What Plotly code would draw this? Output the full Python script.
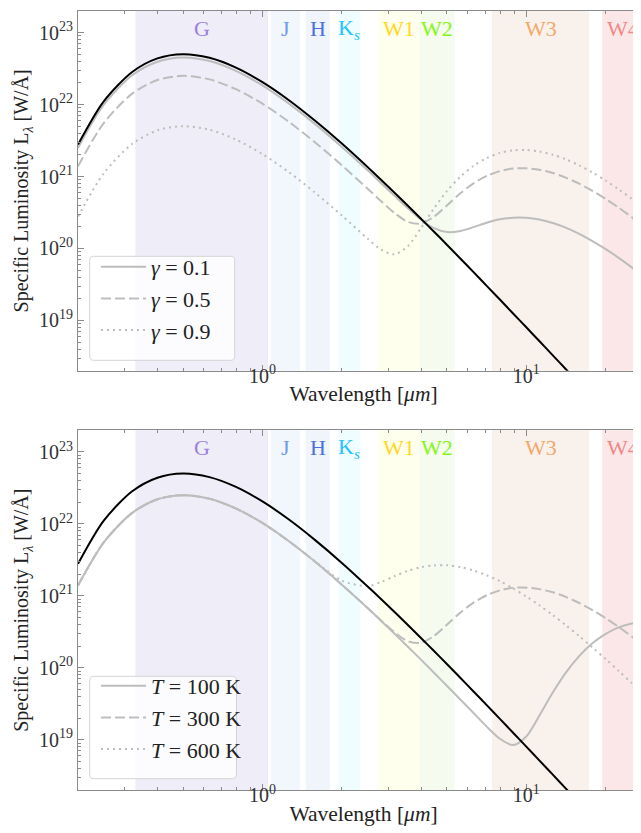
import math
import plotly.graph_objects as go

# ---------------- data ----------------
wavelength_um = [0.2, 0.25, 0.32, 0.4, 0.5, 0.63, 0.79, 1.0, 1.26, 1.58, 2.0, 2.51, 2.82, 3.16,
                 3.55, 3.98, 4.47, 5.01, 5.62, 6.31, 7.08, 7.94, 8.91, 10.0, 11.2, 12.6, 14.1,
                 15.8, 17.8, 20.0, 22.4, 25.1, 28.2, 31.6]

L_star = [2.78e21, 1.10e22, 2.82e22, 4.39e22, 5.02e22, 4.47e22, 3.29e22, 2.05e22, 1.15e22, 6.00e21,
          2.87e21, 1.34e21, 8.97e20, 6.00e20, 3.96e20, 2.61e20, 1.71e20, 1.12e20, 7.26e19, 4.69e19,
          3.02e19, 1.95e19, 1.25e19, 8.02e18, 5.17e18, 3.27e18, 2.11e18, 1.35e18, 8.45e17, 5.34e17,
          3.42e17, 2.18e17, 1.38e17, 8.78e16]

L_gamma_01 = [2.50e21, 9.87e21, 2.54e22, 3.95e22, 4.52e22, 4.03e22, 2.96e22, 1.85e22, 1.03e22, 5.40e21,
              2.58e21, 1.21e21, 8.08e20, 5.43e20, 3.64e20, 2.53e20, 1.92e20, 1.69e20, 1.75e20, 1.98e20,
              2.28e20, 2.54e20, 2.68e20, 2.67e20, 2.53e20, 2.26e20, 1.95e20, 1.61e20, 1.27e20, 9.80e19,
              7.40e19, 5.46e19, 3.92e19, 2.79e19]

L_gamma_05 = [1.39e21, 5.49e21, 1.41e22, 2.20e22, 2.51e22, 2.24e22, 1.65e22, 1.03e22, 5.75e21, 3.00e21,
              1.43e21, 6.72e20, 4.52e20, 3.13e20, 2.35e20, 2.22e20, 2.77e20, 4.00e20, 5.84e20, 8.04e20,
              1.02e21, 1.19e21, 1.29e21, 1.30e21, 1.24e21, 1.12e21, 9.66e20, 8.01e20, 6.33e20, 4.88e20,
              3.69e20, 2.72e20, 1.95e20, 1.39e20]

L_gamma_09 = [2.78e20, 1.10e21, 2.82e21, 4.39e21, 5.02e21, 4.47e21, 3.29e21, 2.05e21, 1.15e21, 6.00e20,
              2.87e20, 1.36e20, 9.61e19, 8.29e19, 1.07e20, 1.90e20, 3.62e20, 6.30e20, 9.93e20, 1.41e21,
              1.81e21, 2.13e21, 2.31e21, 2.34e21, 2.23e21, 2.01e21, 1.74e21, 1.44e21, 1.14e21, 8.78e20,
              6.63e20, 4.90e20, 3.52e20, 2.50e20]

L_T100 = [1.39e21, 5.49e21, 1.41e22, 2.20e22, 2.51e22, 2.24e22, 1.65e22, 1.03e22, 5.75e21, 3.00e21,
          1.43e21, 6.71e20, 4.48e20, 3.00e20, 1.98e20, 1.31e20, 8.53e19, 5.58e19, 3.63e19, 2.35e19,
          1.52e19, 1.03e19, 8.44e18, 1.11e19, 2.15e19, 4.53e19, 8.50e19, 1.43e20, 2.19e20, 2.97e20,
          3.65e20, 4.12e20, 4.34e20, 4.27e20]

L_T300 = [1.39e21, 5.49e21, 1.41e22, 2.20e22, 2.51e22, 2.24e22, 1.65e22, 1.03e22, 5.75e21, 3.00e21,
          1.43e21, 6.72e20, 4.52e20, 3.13e20, 2.35e20, 2.22e20, 2.77e20, 4.00e20, 5.84e20, 8.04e20,
          1.02e21, 1.19e21, 1.29e21, 1.30e21, 1.24e21, 1.12e21, 9.66e20, 8.01e20, 6.33e20, 4.88e20,
          3.69e20, 2.72e20, 1.95e20, 1.39e20]

L_T600 = [1.39e21, 5.49e21, 1.41e22, 2.20e22, 2.51e22, 2.24e22, 1.65e22, 1.03e22, 5.75e21, 3.03e21,
          1.62e21, 1.37e21, 1.56e21, 1.87e21, 2.22e21, 2.50e21, 2.65e21, 2.66e21, 2.51e21, 2.25e21,
          1.93e21, 1.60e21, 1.27e21, 9.79e20, 7.40e20, 5.40e20, 3.92e20, 2.79e20, 1.92e20, 1.32e20,
          9.04e19, 6.13e19, 4.09e19, 2.73e19]

gamma_labels = ["<i>γ</i> = 0.1", "<i>γ</i> = 0.5", "<i>γ</i> = 0.9"]
temp_labels = ["<i>T</i> = 100 K", "<i>T</i> = 300 K", "<i>T</i> = 600 K"]

band_names = ["G", "J", "H", "K<sub><i>s</i></sub>", "W1", "W2", "W3", "W4"]
band_lo_um = [0.33, 1.075, 1.46, 1.94, 2.735, 3.94, 7.41, 19.4]
band_hi_um = [1.05, 1.39, 1.80, 2.35, 3.94, 5.35, 17.3, 28.0]
band_fill = ["#EFEDF8", "#F2F6FD", "#F0F4FB", "#F0FDFF", "#FFFFEE", "#F5FBEE", "#F9F1EC", "#FBE7E7"]
band_text = ["#9B80E0", "#6C9AEE", "#4A70E2", "#22C3FF", "#FFD820", "#84F814", "#F4A86A", "#F08888"]

x_tick_vals = [1, 10]
x_tick_text = ["10<sup>0</sup>", "10<sup>1</sup>"]
y_tick_vals = [1e19, 1e20, 1e21, 1e22, 1e23]
y_tick_text = ["10<sup>19</sup>", "10<sup>20</sup>", "10<sup>21</sup>", "10<sup>22</sup>", "10<sup>23</sup>"]

# ---------------- styling / layout ----------------
SERIF = "Liberation Serif, DejaVu Serif, serif"
GREY = "#bdbdbd"
SPINE = "#8a8a8a"
TXT = "#222222"

W, H = 641, 833
ML, MR, MT, MB = 70, 0, 3, 51
PW = W - ML - MR
PH = H - MT - MB


def px_x(px):
    return (px - ML) / PW


def px_y(py):
    return 1 - (py - MT) / PH


top_dom = [px_y(362.7), 1.0]
bot_dom = [0.0, px_y(422.3)]

x_minor = [m * 10.0 ** e for e in range(-1, 2) for m in range(2, 10)]
y_minor = [m * 10.0 ** e for e in range(18, 24) for m in range(2, 10)]

fig = go.Figure()

styles = [("solid", GREY), ("10px,4px", GREY), ("2px,4px", GREY)]

# top panel
for yv, lab, (dash, col), g in zip([L_gamma_01, L_gamma_05, L_gamma_09], gamma_labels, styles, "abc"):
    fig.add_trace(go.Scatter(x=wavelength_um, y=yv, mode="lines", name=lab,
                             line=dict(color=col, width=2, dash=dash, shape="spline", smoothing=0.8),
                             xaxis="x", yaxis="y", legend="legend", legendgroup="t" + g))
fig.add_trace(go.Scatter(x=wavelength_um, y=L_star, mode="lines", showlegend=False,
                         line=dict(color="black", width=2, shape="spline", smoothing=0.8),
                         xaxis="x", yaxis="y"))

# bottom panel
for yv, lab, (dash, col), g in zip([L_T100, L_T300, L_T600], temp_labels, styles, "abc"):
    fig.add_trace(go.Scatter(x=wavelength_um, y=yv, mode="lines", name=lab,
                             line=dict(color=col, width=2, dash=dash, shape="spline", smoothing=0.8),
                             xaxis="x2", yaxis="y2", legend="legend2", legendgroup="b" + g))
fig.add_trace(go.Scatter(x=wavelength_um, y=L_star, mode="lines", showlegend=False,
                         line=dict(color="black", width=2, shape="spline", smoothing=0.8),
                         xaxis="x2", yaxis="y2"))

shapes = []
annotations = []
for xr, yr in [("x", "y"), ("x2", "y2")]:
    for name, lo, hi, fc, tc in zip(band_names, band_lo_um, band_hi_um, band_fill, band_text):
        shapes.append(dict(type="rect", xref=xr, yref=yr + " domain", x0=lo, x1=hi, y0=0, y1=1,
                           fillcolor=fc, line=dict(width=0), layer="below"))
        annotations.append(dict(xref=xr, yref=yr + " domain",
                                x=(math.log10(lo) + math.log10(hi)) / 2, y=0.951,
                                text=name, showarrow=False, xanchor="center", yanchor="middle",
                                font=dict(family=SERIF, size=22, color=tc)))


def rounded_box(x0, y0, x1, y1, r=4):
    def P(x, y):
        return f"{px_x(x):.5f},{px_y(y):.5f}"
    return (f"M{P(x0 + r, y0)} L{P(x1 - r, y0)} Q{P(x1, y0)} {P(x1, y0 + r)} "
            f"L{P(x1, y1 - r)} Q{P(x1, y1)} {P(x1 - r, y1)} L{P(x0 + r, y1)} "
            f"Q{P(x0, y1)} {P(x0, y1 - r)} L{P(x0, y0 + r)} Q{P(x0, y0)} {P(x0 + r, y0)} Z")


for box in [(81.7, 248.3, 226.7, 352.3), (81.7, 668.3, 228.5, 770.7)]:
    shapes.append(dict(type="path", xref="paper", yref="paper", path=rounded_box(*box),
                       fillcolor="rgba(255,255,255,0.8)", line=dict(color="#d4d4d4", width=1),
                       layer="above"))


def xaxis(domain_anchor):
    return dict(type="log", range=[math.log10(0.2), 1.465], domain=[0, 1], anchor=domain_anchor,
                showline=True, linecolor=SPINE, linewidth=1, mirror="ticks",
                ticks="inside", ticklen=6, tickwidth=1, tickcolor=SPINE,
                tickvals=x_tick_vals, ticktext=x_tick_text, ticklabelstandoff=-13,
                minor=dict(ticks="inside", ticklen=3, tickwidth=1, tickcolor=SPINE, tickvals=x_minor),
                showgrid=False, zeroline=False,
                tickfont=dict(family=SERIF, size=20, color="#333333"),
                title=dict(text="Wavelength [<i>μm</i>]", font=dict(family=SERIF, size=21.5, color=TXT),
                           standoff=0))


def yaxis(dom, anchor):
    return dict(type="log", range=[math.log10(2e18), math.log10(2e23)], domain=dom, anchor=anchor,
                showline=True, linecolor=SPINE, linewidth=1, mirror=False,
                ticks="inside", ticklen=6, tickwidth=1, tickcolor=SPINE,
                tickvals=y_tick_vals, ticktext=y_tick_text,
                minor=dict(ticks="inside", ticklen=3, tickwidth=1, tickcolor=SPINE, tickvals=y_minor),
                showgrid=False, zeroline=False,
                tickfont=dict(family=SERIF, size=20, color="#333333"),
                title=dict(text="Specific Luminosity L<sub><i>λ</i></sub> [W/Å]",
                           font=dict(family=SERIF, size=20, color=TXT), standoff=4))


legend_common = dict(xanchor="left", yanchor="top", bgcolor="rgba(0,0,0,0)", borderwidth=0,
                     font=dict(family=SERIF, size=22, color=TXT), tracegroupgap=0,
                     traceorder="grouped", itemwidth=45)

fig.update_layout(
    width=W, height=H,
    margin=dict(l=ML, r=MR, t=MT, b=MB),
    paper_bgcolor="white", plot_bgcolor="white",
    xaxis=xaxis("y"), yaxis=yaxis(top_dom, "x"),
    xaxis2=xaxis("y2"), yaxis2=yaxis(bot_dom, "x2"),
    shapes=shapes, annotations=annotations,
    legend=dict(x=px_x(88), y=px_y(238), **legend_common),
    legend2=dict(x=px_x(88), y=px_y(657), **legend_common),
)

fig.write_html("out.html")
